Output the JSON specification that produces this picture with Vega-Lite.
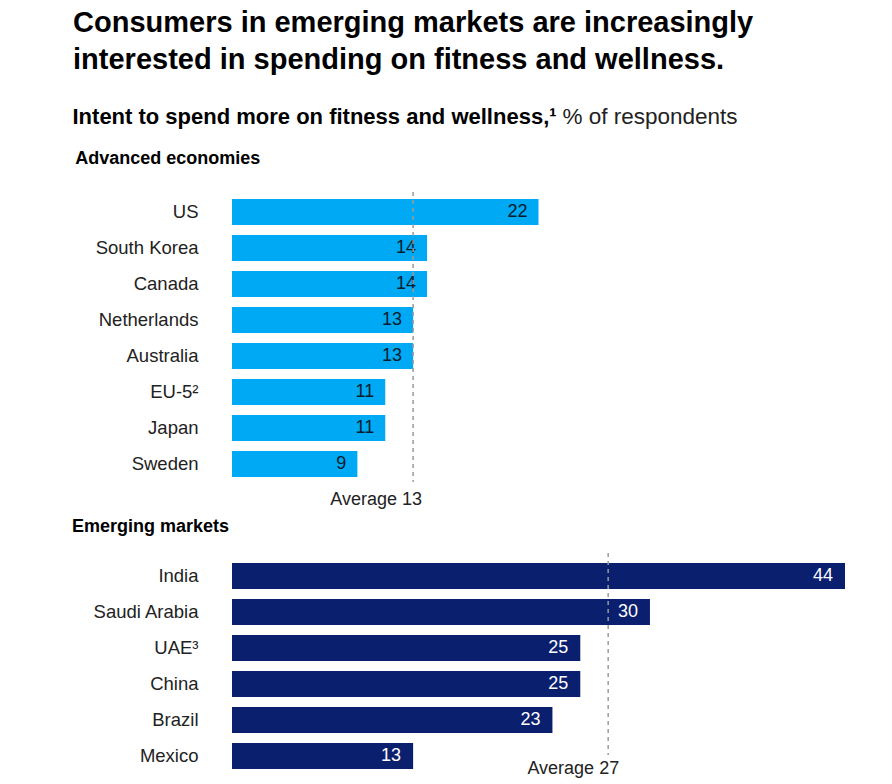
{
  "$schema": "https://vega.github.io/schema/vega-lite/v6.json",
  "background": "white",
  "padding": {"left": 72, "top": 8, "right": 5, "bottom": 0},
  "config": {"font": "Liberation Sans", "view": {"stroke": null}},
  "title": {
    "text": ["Consumers in emerging markets are increasingly", "interested in spending on fitness and wellness."],
    "anchor": "start", "fontSize": 29, "fontWeight": "bold", "color": "#000000", "lineHeight": 37, "offset": 31, "dx": 1
  },
  "vconcat": [
    {
      "hconcat": [
        {
          "data": {"values": [{"t": "Intent to spend more on fitness and wellness,¹"}]},
          "width": 1, "height": 1,
          "mark": {"type": "text", "align": "left", "baseline": "alphabetic", "fontSize": 22, "fontWeight": "bold", "color": "#000000", "dx": -160},
          "encoding": {"text": {"field": "t"}}
        },
        {
          "data": {"values": [{"t": "% of respondents"}]},
          "width": 1, "height": 1,
          "mark": {"type": "text", "align": "left", "baseline": "alphabetic", "fontSize": 22.5, "fontWeight": "normal", "color": "#222222", "dx": -160},
          "encoding": {"text": {"field": "t"}}
        }
      ],
      "spacing": 5
    },
    {
      "vconcat": [
        {
          "title": {"text": "Advanced economies", "anchor": "start", "fontSize": 18, "fontWeight": "bold", "color": "#000000", "dx": -20, "offset": 23},
          "width": 613, "height": 288,
          "layer": [
            {
              "data": {"values": [
                {"country": "US", "value": 22},
                {"country": "South Korea", "value": 14},
                {"country": "Canada", "value": 14},
                {"country": "Netherlands", "value": 13},
                {"country": "Australia", "value": 13},
                {"country": "EU-5²", "value": 11},
                {"country": "Japan", "value": 11},
                {"country": "Sweden", "value": 9}
              ]},
              "layer": [
                {
                  "mark": {"type": "bar", "color": "#00A9F4"},
                  "encoding": {
                    "y": {"field": "country", "type": "nominal", "sort": null,
                      "scale": {"paddingInner": 0.28, "paddingOuter": 0.14},
                      "axis": {"title": null, "domain": false, "ticks": false, "labelPadding": 34, "labelFontSize": 18.5, "labelColor": "#222222", "labelFont": "Liberation Sans"}},
                    "x": {"field": "value", "type": "quantitative", "scale": {"domain": [0, 44], "nice": false}, "axis": null}
                  }
                },
                {
                  "mark": {"type": "text", "align": "right", "dx": -11, "fontSize": 18, "color": "#051C2C"},
                  "encoding": {
                    "y": {"field": "country", "type": "nominal", "sort": null},
                    "x": {"field": "value", "type": "quantitative"},
                    "text": {"field": "value", "type": "quantitative"}
                  }
                }
              ]
            },
            {
              "data": {"values": [{"avg": 13, "label": "Average 13"}]},
              "layer": [
                {
                  "mark": {"type": "rule", "strokeDash": [4, 4], "color": "#9A9A9A", "strokeWidth": 1.5, "yOffset": -20, "y2Offset": 18},
                  "encoding": {
                    "x": {"field": "avg", "type": "quantitative"},
                    "y": {"datum": "US"},
                    "y2": {"datum": "Sweden"}
                  }
                },
                {
                  "mark": {"type": "text", "align": "right", "dx": 9, "yOffset": 36, "fontSize": 18, "color": "#222222"},
                  "encoding": {
                    "x": {"field": "avg", "type": "quantitative"},
                    "y": {"datum": "Sweden"},
                    "text": {"field": "label"}
                  }
                }
              ]
            }
          ]
        },
        {
          "title": {"text": "Emerging markets", "anchor": "start", "fontSize": 18, "fontWeight": "bold", "color": "#000000", "dx": -20, "offset": 16},
          "width": 613, "height": 216,
          "layer": [
            {
              "data": {"values": [
                {"country": "India", "value": 44},
                {"country": "Saudi Arabia", "value": 30},
                {"country": "UAE³", "value": 25},
                {"country": "China", "value": 25},
                {"country": "Brazil", "value": 23},
                {"country": "Mexico", "value": 13}
              ]},
              "layer": [
                {
                  "mark": {"type": "bar", "color": "#0A1F6E"},
                  "encoding": {
                    "y": {"field": "country", "type": "nominal", "sort": null,
                      "scale": {"paddingInner": 0.28, "paddingOuter": 0.14},
                      "axis": {"title": null, "domain": false, "ticks": false, "labelPadding": 34, "labelFontSize": 18.5, "labelColor": "#222222", "labelFont": "Liberation Sans"}},
                    "x": {"field": "value", "type": "quantitative", "scale": {"domain": [0, 44], "nice": false}, "axis": null}
                  }
                },
                {
                  "mark": {"type": "text", "align": "right", "dx": -12, "fontSize": 18, "color": "#FFFFFF"},
                  "encoding": {
                    "y": {"field": "country", "type": "nominal", "sort": null},
                    "x": {"field": "value", "type": "quantitative"},
                    "text": {"field": "value", "type": "quantitative"}
                  }
                }
              ]
            },
            {
              "data": {"values": [{"avg": 27, "label": "Average 27"}]},
              "layer": [
                {
                  "mark": {"type": "rule", "strokeDash": [4, 4], "color": "#9A9A9A", "strokeWidth": 1.5, "yOffset": -23, "y2Offset": -1},
                  "encoding": {
                    "x": {"field": "avg", "type": "quantitative"},
                    "y": {"datum": "India"},
                    "y2": {"datum": "Mexico"}
                  }
                },
                {
                  "mark": {"type": "text", "align": "right", "dx": 11, "yOffset": 13, "fontSize": 18, "color": "#222222"},
                  "encoding": {
                    "x": {"field": "avg", "type": "quantitative"},
                    "y": {"datum": "Mexico"},
                    "text": {"field": "label"}
                  }
                }
              ]
            }
          ]
        }
      ],
      "spacing": 9
    }
  ],
  "spacing": 22
}
